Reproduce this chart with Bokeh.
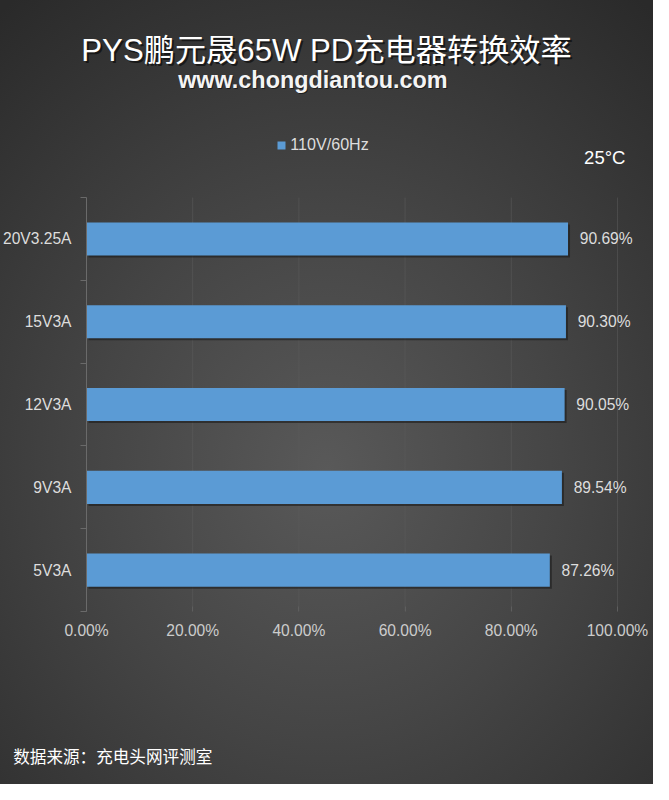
from bokeh.plotting import figure
from bokeh.layouts import column
from bokeh.models import (Label, FixedTicker, LinearAxis, Range1d, ColumnDataSource,
                          Legend, LegendItem)
from bokeh.core.properties import value
from bokeh.embed import file_html
from bokeh.resources import INLINE

# ---- data ----
categories = ["5V3A", "9V3A", "12V3A", "15V3A", "20V3.25A"]
efficiency = [87.26, 89.54, 90.05, 90.30, 90.69]
x_ticks = [0, 20, 40, 60, 80, 100]
series_name = "110V/60Hz"
title_text = "PYS鹏元晟65W PD充电器转换效率"
subtitle_text = "www.chongdiantou.com"
temp_text = "25°C"
source_text = "数据来源：充电头网评测室"

LATIN = "Liberation Sans, Noto Sans CJK SC"
CJK = "Noto Sans CJK SC"

W, H = 653, 784
RW, RH = 669, 800          # reference picture size
SX, SY = W / RW, H / RH


def fx(px):
    return px * SX


def fy(py):
    return py * SY


def fs(size):
    return f"{size * SX:.1f}px"


HDR_H = int(round(fy(104)))     # header strip (title + subtitle)
FTR_H = 60                      # footer strip
CH_H = H - HDR_H - FTR_H        # chart figure


def strip(height):
    f = figure(width=W, height=height, output_backend="svg", toolbar_location=None,
               x_range=Range1d(0, W), y_range=Range1d(0, height),
               min_border=0, x_axis_location=None, y_axis_location=None,
               title_location=None, frame_align=False)
    f.background_fill_color = None
    f.border_fill_color = None
    f.outline_line_color = None
    f.grid.visible = False
    return f


# ---------------- header ----------------
hdr = strip(HDR_H)
for dxo, dyo, col, alpha in [(2, -2, "#000000", 0.55), (0, 0, "#ffffff", 1.0)]:
    hdr.add_layout(Label(x=fx(334), y=HDR_H - fy(51), text=title_text, text_align="center",
                         text_baseline="middle", text_color=col, text_alpha=alpha,
                         x_offset=dxo, y_offset=dyo, text_font_size=fs(32),
                         text_font=LATIN))
for dxo, dyo, col, alpha in [(1, -1, "#000000", 0.5), (0, 0, "#f4f4f4", 1.0)]:
    hdr.add_layout(Label(x=fx(320), y=HDR_H - fy(81), text=subtitle_text, text_align="center",
                         text_baseline="middle", text_color=col, text_alpha=alpha,
                         x_offset=dxo, y_offset=dyo, text_font_size=fs(24),
                         text_font_style="bold", text_font=LATIN))

# ---------------- chart ----------------
AX_L, AX_R, AX_T, AX_B = 87, 632, 201, 623
n = len(categories)
x_per_px = 100.0 / (fx(AX_R) - fx(AX_L))
y_per_px = n / (fy(AX_B) - fy(AX_T))
frame_w = W - fx(AX_L)
frame_h = fy(AX_B) - HDR_H

p = figure(width=W, height=CH_H, output_backend="svg", toolbar_location=None,
           x_range=Range1d(0, frame_w * x_per_px),
           y_range=Range1d(0, frame_h * y_per_px),
           min_border_left=int(round(fx(AX_L))), min_border_right=0,
           min_border_top=0, min_border_bottom=int(round(CH_H - frame_h)),
           x_axis_location=None, y_axis_location=None, title_location=None,
           frame_align=False)
p.background_fill_color = None
p.border_fill_color = None
p.outline_line_color = None
p.grid.visible = False


def dx(px):
    return (fx(px) - fx(AX_L)) * x_per_px


def dy(py):
    return (fy(AX_B) - fy(py)) * y_per_px


ys = [i + 0.5 for i in range(n)]
src = ColumnDataSource(dict(y=ys, v=efficiency,
                            lbl=[f"{v:.2f}%" for v in efficiency]))

# faint vertical grid lines
p.segment(x0=x_ticks[1:], y0=0, x1=x_ticks[1:], y1=n,
          line_color="#5c5c5c", line_alpha=0.55, line_width=1)

# bar shadow
sdx, sdy = 2 * x_per_px, 2 * y_per_px
p.hbar(y=[y - sdy for y in ys], left=sdx,
       right=[v + sdx for v in efficiency], height=0.4,
       fill_color="#1a1a1a", fill_alpha=0.6, line_color=None)
bars = p.hbar(y="y", left=0, right="v", height=0.4, source=src,
              fill_color="#5B9BD5", line_color=None)

p.text(x="v", y="y", text="lbl", source=src, x_offset=12 * SX,
       text_baseline="middle", text_align="left", text_color="#dddddd",
       text_font_size=fs(16), text_font=value(LATIN))

# left axis: labels at category centres, minor ticks at category boundaries
ax_y = LinearAxis(ticker=FixedTicker(ticks=ys, minor_ticks=list(range(n + 1))),
                  bounds=(0, n),
                  major_label_overrides={y: c for y, c in zip(ys, categories)},
                  axis_line_color="#6a6a6a", major_tick_line_color=None,
                  major_tick_out=0, major_tick_in=0,
                  minor_tick_line_color="#6a6a6a", minor_tick_out=6, minor_tick_in=0,
                  major_label_standoff=9,
                  major_label_text_color="#dddddd", major_label_text_font_size=fs(16),
                  major_label_text_font=LATIN)
p.add_layout(ax_y, "left")

# bottom axis
ax_x = LinearAxis(ticker=FixedTicker(ticks=x_ticks), bounds=(0, 100),
                  major_label_overrides={t: f"{t:.2f}%" for t in x_ticks},
                  axis_line_color=None, major_tick_line_color="#5e5e5e",
                  major_tick_in=5, major_tick_out=0, minor_tick_line_color=None,
                  major_label_standoff=10, major_label_text_color="#cccccc",
                  major_label_text_font_size=fs(16), major_label_text_font=LATIN)
p.add_layout(ax_x, "below")

# legend
legend = Legend(items=[LegendItem(label=series_name, renderers=[bars])],
                location=(fx(282) - fx(AX_L), fy(AX_B) - fy(157)),
                background_fill_alpha=0, border_line_color=None,
                label_text_color="#dddddd", label_text_font_size=fs(16.5),
                label_text_font=LATIN, glyph_width=10, glyph_height=10,
                padding=2, margin=0, label_standoff=4)
p.add_layout(legend, "center")

p.add_layout(Label(x=dx(619), y=dy(160), text=temp_text, text_align="center",
                   text_baseline="middle", text_color="#ffffff",
                   text_font_size=fs(19), text_font=LATIN))

# ---------------- footer ----------------
ftr = strip(FTR_H)
ftr.add_layout(Label(x=fx(13), y=H - fy(771), text=source_text, text_align="left",
                     text_baseline="middle", text_color="#ffffff",
                     text_font_size=fs(17), text_font=CJK))

page = column(hdr, p, ftr, spacing=0, width=W, height=H)
page.styles = {"background": "radial-gradient(ellipse 80% 75% at 50% 60%, #595959 0%, #454545 45%, #2a2a2a 100%)"}

open("out.html", "w").write(file_html(page, INLINE))
